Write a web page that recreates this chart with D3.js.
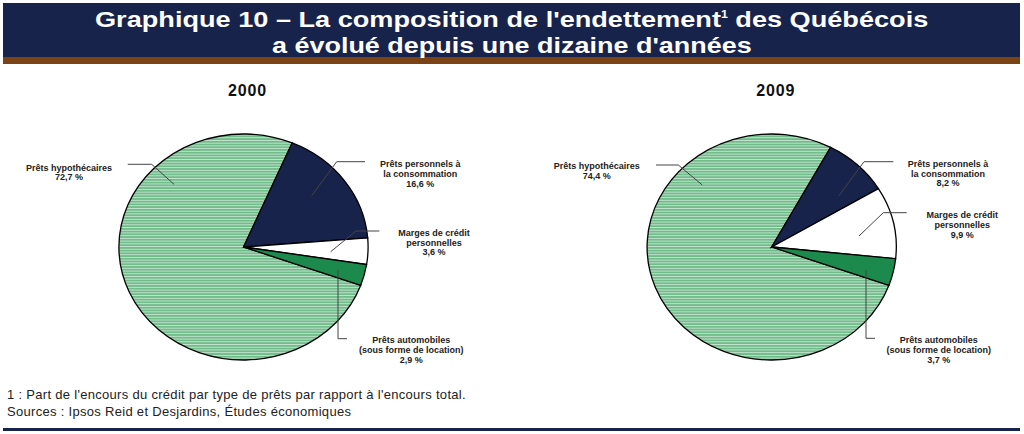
<!DOCTYPE html>
<html>
<head>
<meta charset="utf-8">
<title>Graphique 10</title>
<script src="https://cdn.jsdelivr.net/npm/d3@7/dist/d3.min.js"></script>
<style>
  body { margin: 0; background: #fff; }
  svg { display: block; }
  .title { font-family: "Liberation Sans Narrow", "Arial Narrow", "Liberation Sans", Arial, sans-serif; font-weight: bold; fill: #fff; }
  .year { font-family: "Liberation Sans", Arial, sans-serif; font-weight: bold; font-size: 16px; fill: #111; }
  .lbl { font-family: "Liberation Sans", Arial, sans-serif; font-weight: bold; font-size: 9px; fill: #222; }
  .note { font-family: "Liberation Sans", Arial, sans-serif; font-size: 13px; fill: #222; }
  .leader { fill: none; stroke: #444; stroke-width: 1; }
</style>
</head>
<body>
<svg id="chart" width="1024" height="434"></svg>
<script>
// data
var years = ["2000", "2009"];
var categories = ["Prêts hypothécaires", "Prêts personnels à la consommation",
                  "Marges de crédit personnelles", "Prêts automobiles (sous forme de location)"];
var labelLines = [["Prêts hypothécaires"], ["Prêts personnels à", "la consommation"],
                  ["Marges de crédit", "personnelles"], ["Prêts automobiles", "(sous forme de location)"]];
var values2000 = [72.7, 16.6, 3.6, 2.9];
var values2009 = [74.4, 8.2, 9.9, 3.7];
var titleLines = ["Graphique 10 – La composition de l'endettement", "a évolué depuis une dizaine d'années"];
var notes = ["1 : Part de l'encours du crédit par type de prêts par rapport à l'encours total.",
             "Sources : Ipsos Reid et Desjardins, Études économiques"];

// layout
var W = 1024, H = 434;
var rx = 124.6, ry = 113;
var pieCenters = [[243.5, 247], [771.7, 247]];
var startDeg = 109.8;
var colors = ["url(#hatch)", "#18234c", "#ffffff", "#1b8a4c"];

// label placement (offsets from pie centre), one set per pie
var labelLayout = [
  [ {x: -174.5, y: -76.5, leader: [[-115.8, -82.7], [-91.8, -82.7], [-69.5, -62.7]]},
    {x: 176.8, y: -79.7, leader: [[121.5, -85.3], [93.2, -85.3], [68.2, -51.3]]},
    {x: 190.5, y: -11.3, leader: [[135.8, -16], [112.5, -16], [87.2, 4.7]]},
    {x: 167.7, y: 96.3, leader: [[103.5, 91.7], [94.5, 91.7], [94.5, 23]]} ],
  [ {x: -175, y: -77.7, leader: [[-115.7, -82], [-93.4, -82], [-69.4, -62]]},
    {x: 176.3, y: -80.3, leader: [[121.6, -85.3], [92.3, -85.3], [67.3, -51.3]]},
    {x: 190.5, y: -28.7, leader: [[135, -34.3], [111.6, -34.3], [87.3, -11]]},
    {x: 167.1, y: 96.3, leader: [[103.3, 91.3], [94.3, 91.3], [94.3, 23]]} ]
];

var svg = d3.select("#chart");
var fmt = function(v) { return d3.format(".1f")(v).replace(".", ",") + " %"; };

// hatch pattern for the mortgage slice
var defs = svg.append("defs");
var pat = defs.append("pattern")
  .attr("id", "hatch")
  .attr("patternUnits", "userSpaceOnUse")
  .attr("width", 6).attr("height", 3);
pat.append("rect").attr("width", 6).attr("height", 3).attr("fill", "#72bc8c");
pat.append("rect").attr("y", 2).attr("width", 6).attr("height", 1).attr("fill", "#c2e4cd");

// header band
svg.append("rect").attr("x", 3).attr("y", 3).attr("width", 1017).attr("height", 55).attr("fill", "#18234c");
svg.append("rect").attr("x", 3).attr("y", 57).attr("width", 1017).attr("height", 7).attr("fill", "#7b4313");

var t1 = svg.append("text").attr("class", "title").attr("x", 0).attr("y", 0).style("font-size", "22px");
t1.append("tspan").text(titleLines[0]);
t1.append("tspan").attr("dy", -9).style("font-size", "10px").text("1");
t1.append("tspan").attr("dy", 9).text(" des Québécois");
var t2 = svg.append("text").attr("class", "title").attr("x", 0).attr("y", 0).style("font-size", "22px")
  .text(titleLines[1]);

// stretch each title line to the width seen in the reference
function fitText(sel, x0, x1, baseline) {
  var w = sel.node().getBBox().width;
  sel.attr("transform", "translate(" + x0 + "," + baseline + ") scale(" + ((x1 - x0) / w) + ",1)");
}
fitText(t1, 95, 929, 27);
fitText(t2, 272, 752, 53);

// pies
var pie = d3.pie().sort(null).value(function(d) { return d; })
  .startAngle(startDeg * Math.PI / 180)
  .endAngle(startDeg * Math.PI / 180 + 2 * Math.PI);
var arc = d3.arc().innerRadius(0).outerRadius(rx);

[values2000, values2009].forEach(function(vals, i) {
  var c = pieCenters[i];
  svg.append("text").attr("class", "year")
    .attr("x", c[0] + 4).attr("y", 96)
    .attr("text-anchor", "middle")
    .style("letter-spacing", "0.8px")
    .text(years[i]);

  var g = svg.append("g")
    .attr("transform", "translate(" + c[0] + "," + c[1] + ") scale(1," + (ry / rx) + ")");
  g.selectAll("path")
    .data(pie(vals))
    .enter().append("path")
    .attr("d", arc)
    .attr("fill", function(d, j) { return colors[j]; })
    .attr("stroke", "#000")
    .attr("stroke-width", 1.3)
    .attr("vector-effect", "non-scaling-stroke");

  var lay = labelLayout[i];
  var line = d3.line().x(function(p) { return c[0] + p[0]; }).y(function(p) { return c[1] + p[1]; });
  svg.selectAll(".leader" + i)
    .data(lay)
    .enter().append("path")
    .attr("class", "leader leader" + i)
    .attr("d", function(d) { return line(d.leader); });

  vals.forEach(function(v, j) {
    var txt = svg.append("text").attr("class", "lbl")
      .attr("text-anchor", "middle")
      .attr("x", c[0] + lay[j].x).attr("y", c[1] + lay[j].y);
    labelLines[j].concat([fmt(v)]).forEach(function(s, k) {
      txt.append("tspan").attr("x", c[0] + lay[j].x).attr("dy", k === 0 ? 0 : 9.8).text(s);
    });
  });
});

// footnotes
notes.forEach(function(s, k) {
  svg.append("text").attr("class", "note").attr("x", 7).attr("y", 399 + k * 17)
    .style("letter-spacing", "0.3px").text(s);
});
svg.append("rect").attr("x", 3).attr("y", 428).attr("width", 1017).attr("height", 3).attr("fill", "#18234c");
</script>
</body>
</html>
